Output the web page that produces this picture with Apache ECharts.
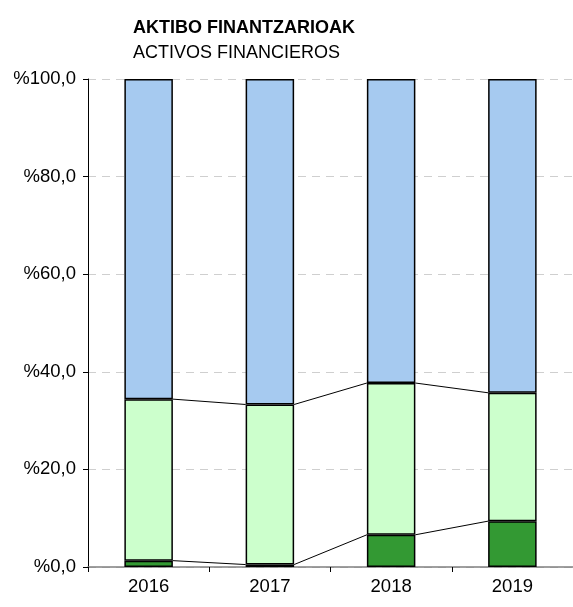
<!DOCTYPE html>
<html>
<head>
<meta charset="utf-8">
<script src="https://cdn.jsdelivr.net/npm/echarts@6/dist/echarts.min.js"></script>
<style>
  html, body { margin: 0; padding: 0; background: #fff; }
  #main { width: 573px; height: 607px; }
</style>
</head>
<body>
<div id="main"></div>
<script>
// datuak
var years = ['2016', '2017', '2018', '2019'];
var darkGreen = [1.3, 0.5, 6.6, 9.4];
var lightGreen = [33.1, 32.8, 31.1, 26.3];
var blue = [65.6, 66.7, 62.3, 64.3];

var font = 'Liberation Sans, Arial, sans-serif';

// series lines (Excel style) between the stacked tops
var level1 = darkGreen;
var level2 = darkGreen.map(function (v, i) { return v + lightGreen[i]; });
var linkData = [];
for (var i = 0; i < years.length - 1; i++) {
    linkData.push([i, level1[i], level1[i + 1], level2[i], level2[i + 1]]);
}

var myChart = echarts.init(document.getElementById('main'));
myChart.setOption({
    animation: false,
    title: [
        { text: 'AKTIBO FINANTZARIOAK', left: 128, top: 14,
          textStyle: { fontFamily: font, fontSize: 18, fontWeight: 'bold', color: '#000' } },
        { text: 'ACTIVOS FINANCIEROS', left: 128, top: 39,
          textStyle: { fontFamily: font, fontSize: 18, fontWeight: 'normal', color: '#000' } }
    ],
    grid: { left: 88, right: 0, top: 79, bottom: 40 },
    xAxis: {
        type: 'category',
        data: years,
        axisLine: { lineStyle: { color: '#808080', width: 1.5 } },
        axisTick: { show: true, length: 5, alignWithLabel: false, lineStyle: { color: '#000' } },
        axisLabel: { fontFamily: font, fontSize: 18.5, color: '#000', margin: 10 }
    },
    yAxis: {
        type: 'value',
        min: 0, max: 100, interval: 20,
        axisLine: { show: true, lineStyle: { color: '#000', width: 1 } },
        axisTick: { show: true, length: 5, lineStyle: { color: '#000' } },
        axisLabel: {
            fontFamily: font, fontSize: 18.5, color: '#000', margin: 12,
            formatter: function (v) { return '%' + v.toFixed(1).replace('.', ','); }
        },
        splitLine: { show: true, lineStyle: { color: '#cfcfcf', type: [8, 6] } }
    },
    series: [
        { type: 'bar', stack: 'a', data: darkGreen, barWidth: '40%',
          itemStyle: { color: '#339933', borderColor: '#000', borderWidth: 1.5 } },
        { type: 'bar', stack: 'a', data: lightGreen, barWidth: '40%',
          itemStyle: { color: '#CCFFCC', borderColor: '#000', borderWidth: 1.5 } },
        { type: 'bar', stack: 'a', data: blue, barWidth: '40%',
          itemStyle: { color: '#A6CAF0', borderColor: '#000', borderWidth: 1.5 } },
        {
            type: 'custom',
            data: linkData,
            silent: true,
            z: 3,
            renderItem: function (params, api) {
                var half = api.size([1, 0])[0] * 0.2;
                var i = api.value(0);
                var children = [];
                [[1, 2], [3, 4]].forEach(function (k) {
                    var p1 = api.coord([i, api.value(k[0])]);
                    var p2 = api.coord([i + 1, api.value(k[1])]);
                    children.push({
                        type: 'line',
                        shape: { x1: p1[0] + half, y1: p1[1], x2: p2[0] - half, y2: p2[1] },
                        style: { stroke: '#000', lineWidth: 1 }
                    });
                });
                return { type: 'group', children: children };
            }
        }
    ]
});
</script>
</body>
</html>
